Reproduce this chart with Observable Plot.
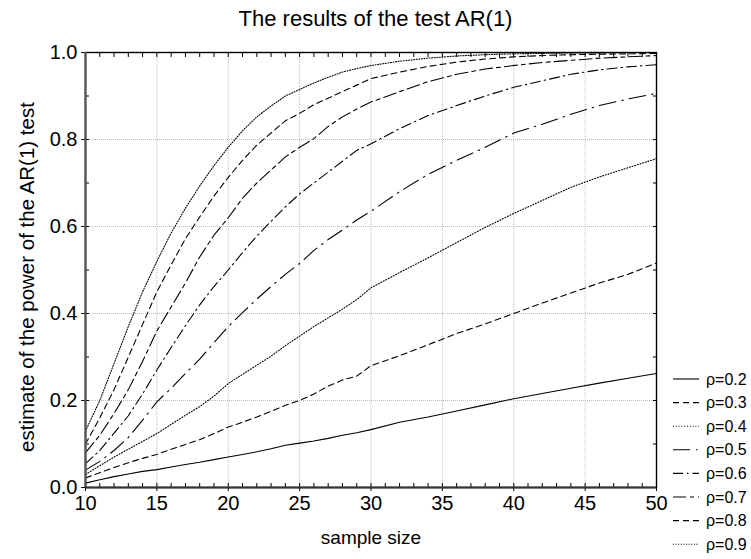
<!DOCTYPE html>
<html>
<head>
<meta charset="utf-8">
<script src="https://cdn.jsdelivr.net/npm/d3@7"></script>
<script src="https://cdn.jsdelivr.net/npm/@observablehq/plot@0.6"></script>
<style>
  body { margin: 0; background: #fff; font-family: "Liberation Sans", Arial, sans-serif; }
  #wrap { position: relative; width: 751px; height: 559px; }
  #title { width: 751px; height: 34px; text-align: center; font-size: 22px; line-height: 24px; padding-top: 7px; box-sizing: border-box; color: #000; }
  #chart svg { display: block; }
  #legend { position: absolute; left: 0; top: 0; pointer-events: none; }
</style>
</head>
<body>
<div id="wrap">
  <div id="title">The results of the test AR(1)</div>
  <div id="chart"></div>
  <svg id="legend" width="751" height="559"></svg>
</div>
<script>
// Sample sizes at which the power of the AR(1) test was estimated
const sampleSize = [10, 11, 12, 13, 14, 15, 16, 17, 18, 19, 20, 21, 22, 23, 24, 25, 26, 27, 28, 29, 30,
                    32, 34, 36, 38, 40, 42, 44, 46, 48, 50];

// Estimated power for each autocorrelation coefficient rho
const rho02 = [0.010, 0.018, 0.025, 0.031, 0.037, 0.041, 0.047, 0.053, 0.058, 0.064, 0.070, 0.076, 0.082, 0.089, 0.097, 0.102, 0.107, 0.113, 0.120, 0.126, 0.133,
               0.150, 0.162, 0.176, 0.190, 0.204, 0.216, 0.228, 0.240, 0.251, 0.262];
const rho03 = [0.022, 0.034, 0.046, 0.057, 0.067, 0.076, 0.088, 0.099, 0.110, 0.124, 0.139, 0.150, 0.162, 0.175, 0.189, 0.200, 0.215, 0.233, 0.247, 0.256, 0.280,
               0.303, 0.328, 0.354, 0.376, 0.400, 0.424, 0.447, 0.470, 0.490, 0.516];
const rho04 = [0.030, 0.050, 0.070, 0.088, 0.106, 0.124, 0.145, 0.166, 0.186, 0.210, 0.239, 0.260, 0.281, 0.302, 0.326, 0.348, 0.370, 0.390, 0.410, 0.432, 0.459,
               0.494, 0.528, 0.563, 0.598, 0.630, 0.660, 0.690, 0.714, 0.735, 0.756];
const rho05 = [0.040, 0.060, 0.085, 0.115, 0.155, 0.197, 0.228, 0.262, 0.295, 0.333, 0.370, 0.402, 0.433, 0.462, 0.490, 0.515, 0.545, 0.570, 0.592, 0.615, 0.635,
               0.680, 0.720, 0.752, 0.782, 0.815, 0.835, 0.858, 0.878, 0.893, 0.906];
const rho06 = [0.055, 0.085, 0.125, 0.165, 0.215, 0.270, 0.322, 0.372, 0.420, 0.462, 0.500, 0.540, 0.578, 0.612, 0.645, 0.675, 0.700, 0.725, 0.750, 0.775, 0.790,
               0.825, 0.855, 0.878, 0.900, 0.920, 0.935, 0.950, 0.960, 0.967, 0.972];
const rho07 = [0.080, 0.120, 0.170, 0.225, 0.290, 0.360, 0.415, 0.470, 0.530, 0.580, 0.620, 0.665, 0.700, 0.730, 0.760, 0.782, 0.802, 0.830, 0.852, 0.870, 0.886,
               0.910, 0.933, 0.950, 0.962, 0.970, 0.977, 0.982, 0.987, 0.990, 0.993];
const rho08 = [0.100, 0.160, 0.225, 0.300, 0.375, 0.450, 0.512, 0.572, 0.622, 0.670, 0.713, 0.752, 0.787, 0.815, 0.843, 0.860, 0.880, 0.895, 0.910, 0.925, 0.940,
               0.955, 0.968, 0.978, 0.985, 0.990, 0.993, 0.995, 0.996, 0.997, 0.998];
const rho09 = [0.130, 0.200, 0.285, 0.370, 0.450, 0.520, 0.585, 0.642, 0.693, 0.740, 0.782, 0.820, 0.852, 0.877, 0.900, 0.915, 0.930, 0.943, 0.955, 0.963, 0.970,
               0.980, 0.987, 0.992, 0.995, 0.997, 0.998, 0.999, 0.999, 1.000, 1.000];

const seriesNames = ["ρ=0.2", "ρ=0.3", "ρ=0.4", "ρ=0.5", "ρ=0.6", "ρ=0.7", "ρ=0.8", "ρ=0.9"];
const seriesValues = [rho02, rho03, rho04, rho05, rho06, rho07, rho08, rho09];

// Line pattern for each series (solid, dashed, dotted, dash-dot ...)
const dashPatterns = ["none", "6,4", "1,1.8", "17,6,1.5,6", "10,4,1.5,4", "13,4,4,4", "6,4", "1,1.6"];

// Axis ticks
const xMajorTicks = [10, 15, 20, 25, 30, 35, 40, 45, 50];
const xMinorTicks = d3.range(10, 51, 1);
const yMajorTicks = [0, 0.2, 0.4, 0.6, 0.8, 1.0];
const yMinorTicks = [0, 0.1, 0.2, 0.3, 0.4, 0.5, 0.6, 0.7, 0.8, 0.9, 1.0];

const xLabel = "sample size";
const yLabel = "estimate of the power of the AR(1) test";

// Long-format table built from the arrays above
const rows = seriesNames.flatMap((name, i) =>
  sampleSize.map((n, j) => ({series: name, n, power: seriesValues[i][j]}))
);

const blank = () => "";

const seriesLines = seriesNames.map((name, i) =>
  Plot.line(rows.filter(d => d.series === name), {
    x: "n", y: "power",
    stroke: "#000", strokeWidth: 1.1,
    strokeDasharray: dashPatterns[i] === "none" ? null : dashPatterns[i]
  })
);

const chart = Plot.plot({
  width: 751,
  height: 525,
  marginLeft: 85,
  marginRight: 95,
  marginTop: 18,
  marginBottom: 72,
  style: {fontFamily: "'Liberation Sans', Arial, sans-serif", fontSize: "20px", color: "#000", background: "#fff"},
  x: {domain: [10, 50]},
  y: {domain: [0, 1]},
  marks: [
    Plot.gridX(xMajorTicks, {stroke: "#bbb", strokeOpacity: 1, strokeDasharray: "1,1"}),
    Plot.gridY(yMajorTicks, {stroke: "#bbb", strokeOpacity: 1, strokeDasharray: "1,1"}),
    ...seriesLines,
    // inward minor ticks on all four sides
    Plot.axisX(xMinorTicks, {anchor: "bottom", tickSize: -4, tickFormat: blank, label: null}),
    Plot.axisX(xMinorTicks, {anchor: "top", tickSize: -4, tickFormat: blank, label: null}),
    Plot.axisY(yMinorTicks, {anchor: "left", tickSize: -4, tickFormat: blank, label: null}),
    Plot.axisY(yMinorTicks, {anchor: "right", tickSize: -4, tickFormat: blank, label: null}),
    // labelled major ticks
    Plot.axisX(xMajorTicks, {anchor: "bottom", tickSize: 4, tickPadding: 4, fontSize: 20, tickFormat: d => String(d), label: null}),
    Plot.axisY(yMajorTicks, {anchor: "left", tickSize: 4, tickPadding: 4, fontSize: 20, tickFormat: d3.format(".1f"), label: null}),
    Plot.frame({stroke: "#000", strokeWidth: 1.4}),
    Plot.ruleX([10], {stroke: "#555", strokeWidth: 2.2}),
    Plot.ruleY([0], {stroke: "#333", strokeWidth: 2}),
    Plot.text([yLabel], {frameAnchor: "left", textAnchor: "middle", rotate: -90, dx: -58, dy: 7, fontSize: 20.5}),
    Plot.text([xLabel], {frameAnchor: "bottom", textAnchor: "middle", dy: 56, fontSize: 19})
  ]
});
document.getElementById("chart").appendChild(chart);

// Legend to the right of the plot
const legend = d3.select("#legend");
const rowY = i => 379 + i * 23.6;
seriesNames.forEach((name, i) => {
  const g = legend.append("g").attr("transform", `translate(0,${rowY(i)})`);
  g.append("line")
    .attr("x1", 673).attr("x2", 699).attr("y1", 0).attr("y2", 0)
    .attr("stroke", "#000").attr("stroke-width", 1.1)
    .attr("stroke-dasharray", dashPatterns[i] === "none" ? null : dashPatterns[i]);
  g.append("text")
    .attr("x", 706).attr("y", 0).attr("dy", "0.35em")
    .attr("font-size", 16).attr("font-family", "'Liberation Sans', Arial, sans-serif")
    .text(name);
});
</script>
</body>
</html>
